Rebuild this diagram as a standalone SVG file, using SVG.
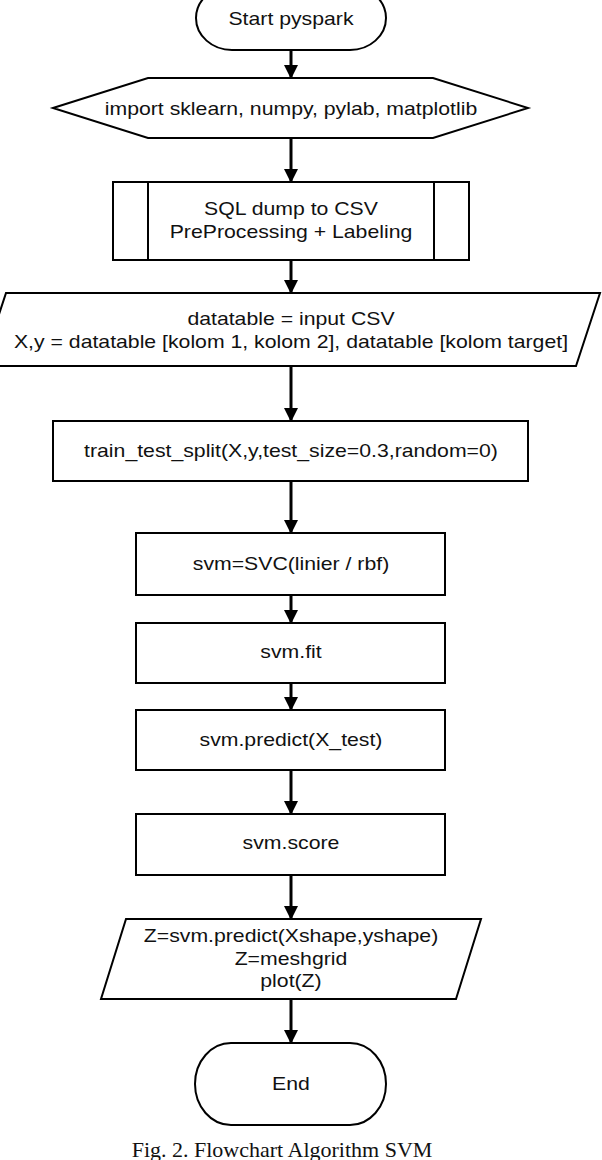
<svg xmlns="http://www.w3.org/2000/svg" width="602" height="1160" viewBox="0 0 602 1160">
<style>
.s{fill:#fff;stroke:#000;stroke-width:2}
.t{font-family:"Liberation Sans",Arial,sans-serif;font-size:18.8px;fill:#111;text-anchor:middle;dominant-baseline:central;transform-origin:291px 0px;transform:scale(1.13,1)}
.c{stroke:#000;stroke-width:3;fill:none}
.cap{font-family:"Liberation Serif","Times New Roman",serif;font-size:22px;fill:#111;text-anchor:middle}
</style>
<defs>
<marker id="ah" markerUnits="userSpaceOnUse" markerWidth="14" markerHeight="16" refX="13" refY="7" orient="auto">
<path d="M0,0 L14,7 L0,14 Z" fill="#000"/>
</marker>
</defs>
<rect width="602" height="1160" fill="#fff"/>
<g id="connectors">
<line class="c" x1="291" y1="50" x2="291" y2="78" marker-end="url(#ah)"/>
<line class="c" x1="291" y1="139" x2="291" y2="182" marker-end="url(#ah)"/>
<line class="c" x1="291" y1="260" x2="291" y2="293" marker-end="url(#ah)"/>
<line class="c" x1="291" y1="366" x2="291" y2="421" marker-end="url(#ah)"/>
<line class="c" x1="291" y1="481" x2="291" y2="533" marker-end="url(#ah)"/>
<line class="c" x1="291" y1="595" x2="291" y2="623" marker-end="url(#ah)"/>
<line class="c" x1="291" y1="683" x2="291" y2="710" marker-end="url(#ah)"/>
<line class="c" x1="291" y1="770" x2="291" y2="814" marker-end="url(#ah)"/>
<line class="c" x1="291" y1="875" x2="291" y2="919" marker-end="url(#ah)"/>
<line class="c" x1="291" y1="999" x2="291" y2="1043" marker-end="url(#ah)"/>
</g>
<g id="start">
<rect class="s" x="196" y="-14" width="190" height="64" rx="36" ry="32"/>
<text class="t" x="291" y="18">Start pyspark</text>
</g>
<g id="import">
<polygon class="s" points="53,108 148,78 433,78 528,108 433,138 148,138"/>
<text class="t" x="291" y="108">import sklearn, numpy, pylab, matplotlib</text>
</g>
<g id="sqldump">
<rect class="s" x="113" y="182" width="356" height="78"/>
<line class="s" x1="148" y1="182" x2="148" y2="260"/>
<line class="s" x1="434" y1="182" x2="434" y2="260"/>
<text class="t" x="291" y="208">SQL dump to CSV</text>
<text class="t" x="291" y="231">PreProcessing + Labeling</text>
</g>
<g id="input">
<polygon class="s" points="6,293 600,293 576,366 -18,366"/>
<text class="t" x="291" y="318">datatable = input CSV</text>
<text class="t" x="291" y="341">X,y = datatable [kolom 1, kolom 2], datatable [kolom target]</text>
</g>
<g id="split">
<rect class="s" x="53" y="421" width="475" height="60"/>
<text class="t" x="291" y="450">train_test_split(X,y,test_size=0.3,random=0)</text>
</g>
<g id="svc">
<rect class="s" x="136" y="533" width="309" height="62"/>
<text class="t" x="291" y="563">svm=SVC(linier / rbf)</text>
</g>
<g id="fit">
<rect class="s" x="136" y="623" width="309" height="60"/>
<text class="t" x="291" y="651">svm.fit</text>
</g>
<g id="predict">
<rect class="s" x="136" y="710" width="309" height="60"/>
<text class="t" x="291" y="739">svm.predict(X_test)</text>
</g>
<g id="score">
<rect class="s" x="136" y="814" width="309" height="61"/>
<text class="t" x="291" y="842">svm.score</text>
</g>
<g id="plot">
<polygon class="s" points="126,919 481,919 456,999 101,999"/>
<text class="t" x="291" y="935">Z=svm.predict(Xshape,yshape)</text>
<text class="t" x="291" y="958">Z=meshgrid</text>
<text class="t" x="291" y="980">plot(Z)</text>
</g>
<g id="end">
<rect class="s" x="195" y="1043" width="191" height="82" rx="36" ry="41"/>
<text class="t" x="291" y="1083">End</text>
</g>
<text class="cap" x="282" y="1157">Fig. 2. Flowchart Algorithm SVM</text>
</svg>
